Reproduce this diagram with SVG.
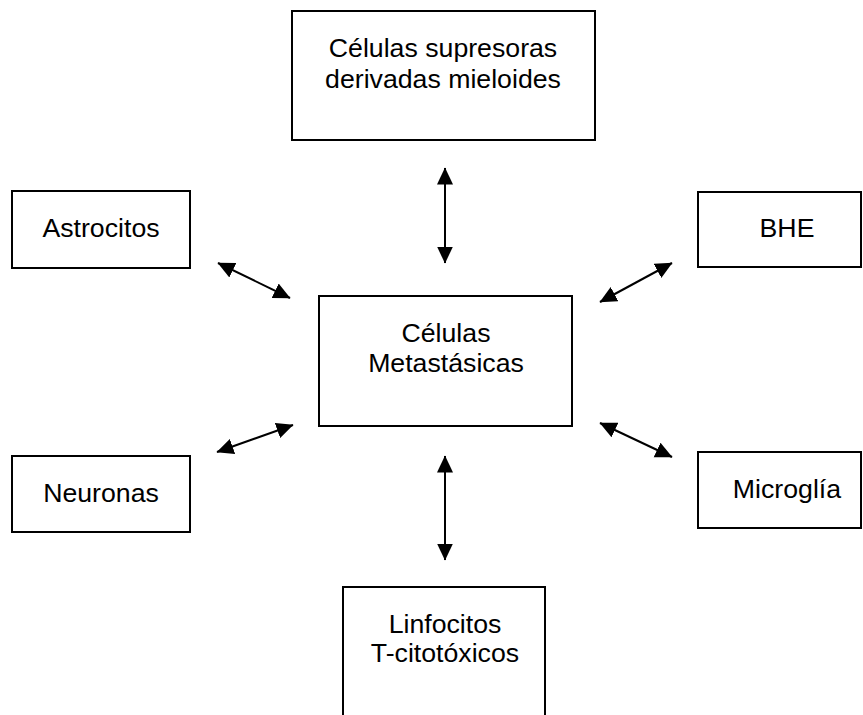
<svg xmlns="http://www.w3.org/2000/svg" width="863" height="715" viewBox="0 0 863 715">
<style>
.box{fill:#fff;stroke:#000;stroke-width:2}
.lbl{font-family:"Liberation Sans",Arial,sans-serif;font-size:26.7px;fill:#000;text-anchor:middle}
.arr{stroke:#000;stroke-width:2;fill:none;marker-start:url(#ah);marker-end:url(#ah)}
</style>
<defs>
<marker id="ah" markerUnits="userSpaceOnUse" markerWidth="18" markerHeight="17" refX="16.5" refY="8" orient="auto-start-reverse" viewBox="0 0 18 16">
<path d="M0,0 L17,8 L0,16 z" fill="#000"/>
</marker>
</defs>
<rect width="863" height="715" fill="#fff"/>
<g id="connectors">
<line class="arr" x1="445" y1="168" x2="445" y2="263"/>
<line class="arr" x1="218" y1="263" x2="290" y2="298"/>
<line class="arr" x1="672" y1="263" x2="600" y2="302"/>
<line class="arr" x1="217" y1="452" x2="293" y2="425"/>
<line class="arr" x1="600" y1="423" x2="672" y2="457"/>
<line class="arr" x1="445" y1="456" x2="445" y2="560"/>
</g>
<g id="mdsc">
<rect class="box" x="292" y="11" width="303" height="129"/>
<text class="lbl" x="443" y="57">Células supresoras</text>
<text class="lbl" x="443" y="88">derivadas mieloides</text>
</g>
<g id="astrocitos">
<rect class="box" x="12" y="191" width="178" height="77"/>
<text class="lbl" x="101" y="237">Astrocitos</text>
</g>
<g id="bhe">
<rect class="box" x="698" y="192" width="163" height="75"/>
<text class="lbl" x="787" y="237">BHE</text>
</g>
<g id="metastasicas">
<rect class="box" x="319" y="296" width="253" height="130"/>
<text class="lbl" x="446" y="342">Células</text>
<text class="lbl" x="446" y="372">Metastásicas</text>
</g>
<g id="neuronas">
<rect class="box" x="12" y="456" width="178" height="76"/>
<text class="lbl" x="101" y="502">Neuronas</text>
</g>
<g id="microglia">
<rect class="box" x="698" y="452" width="163" height="76"/>
<text class="lbl" x="787" y="498">Microglía</text>
</g>
<g id="linfocitos">
<path class="box" d="M343,716 L343,587 L545,587 L545,716"/>
<text class="lbl" x="445" y="633">Linfocitos</text>
<text class="lbl" x="445" y="662">T-citotóxicos</text>
</g>
</svg>
